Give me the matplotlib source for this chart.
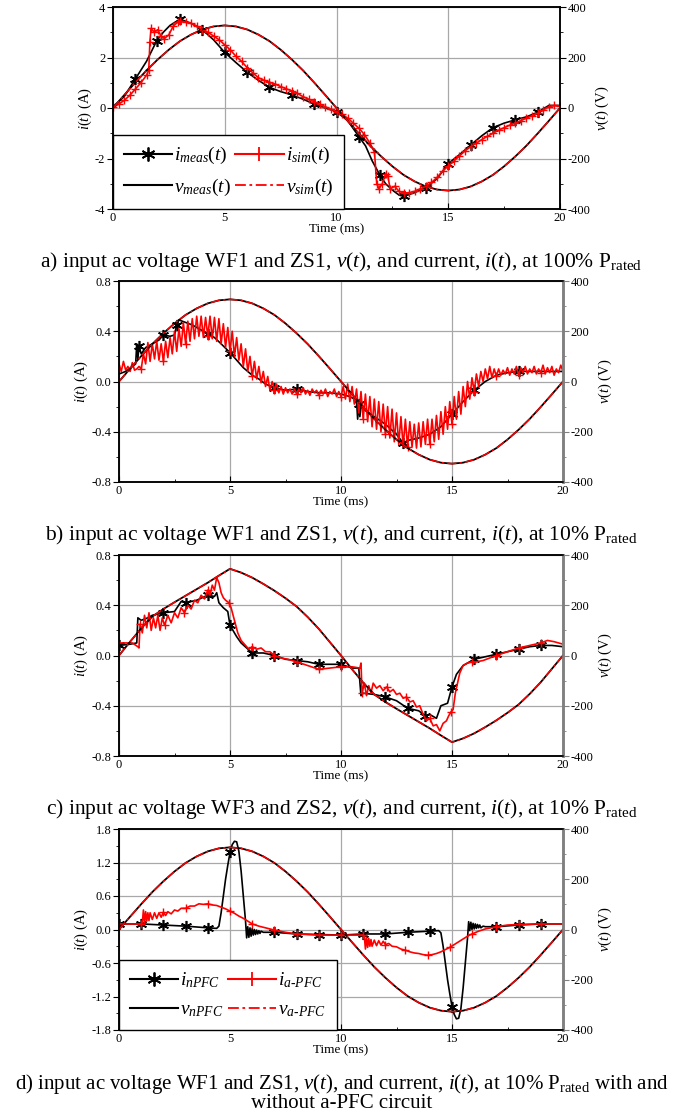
import numpy as np
import matplotlib
matplotlib.use('Agg')
import matplotlib.pyplot as plt
from matplotlib.lines import Line2D
from matplotlib.ticker import MultipleLocator

plt.rcParams['font.family'] = ['Liberation Serif', 'DejaVu Serif']
plt.rcParams['mathtext.fontset'] = 'custom'
plt.rcParams['mathtext.rm'] = 'Liberation Serif'
plt.rcParams['mathtext.it'] = 'Liberation Serif:italic'
plt.rcParams['mathtext.bf'] = 'Liberation Serif:bold'
plt.rcParams['axes.unicode_minus'] = False

# ---------------- data ----------------
# voltage, WF1 (sinusoidal) sampled every 0.5 ms
t_v = np.arange(41) * 0.5
v_wf1 = [0, 51, 101, 149, 192, 231, 265, 291, 311, 323, 327, 323, 311, 291, 265, 231, 192, 149, 101, 51,
         0, -51, -101, -149, -192, -231, -265, -291, -311, -323, -327, -323, -311, -291, -265, -231, -192,
         -149, -101, -51, 0]
# voltage, WF3 (distorted)
v_wf3 = [0, 55, 108, 155, 185, 212, 238, 264, 290, 318, 345, 330, 310, 285, 258, 228, 195, 153, 106, 53,
         0, -55, -108, -155, -185, -212, -238, -264, -290, -318, -345, -330, -310, -285, -258, -228, -195,
         -153, -106, -53, 0]

# panel a: 100 % rated
t_a_meas = [0, 0.5, 1.0, 1.5, 1.95, 2.25, 2.55, 3.0, 3.5, 4.0, 4.5, 5.0, 5.5, 6.0, 6.5, 7.0, 7.5, 8.0, 8.5, 9.0,
            9.5, 10.0, 10.5, 11.0, 11.3, 11.6, 11.95, 12.2, 12.5, 12.8, 13.0, 13.5, 14.0, 14.5, 15.0, 15.5,
            16.0, 16.5, 17.0, 17.5, 18.0, 18.5, 19.0, 19.5, 20.0]
i_a_meas = [0.05, 0.45, 1.15, 1.85, 2.65, 3.0, 3.27, 3.52, 3.35, 3.1, 2.7, 2.2, 1.8, 1.42, 1.1, 0.82, 0.65,
            0.52, 0.35, 0.16, 0.0, -0.15, -0.5, -1.13, -1.5, -2.1, -2.67, -3.0, -3.25, -3.45, -3.5, -3.35,
            -3.15, -2.8, -2.2, -1.85, -1.47, -1.1, -0.78, -0.6, -0.47, -0.35, -0.17, 0.1, 0.1]
t_a_sim = [0, 0.25, 0.5, 0.75, 1.0, 1.25, 1.5, 1.6, 1.65, 1.7, 1.85, 2.0, 2.15, 2.3, 2.5, 2.7, 2.9, 3.0, 3.25,
           3.5, 3.75, 4.0, 4.25, 4.5, 4.75, 5.0, 5.25, 5.5, 5.75, 6.0, 6.25, 6.5, 6.75, 7.0, 7.25, 7.5, 7.75,
           8.0, 8.25, 8.5, 8.75, 9.0, 9.25, 9.5, 9.75, 10.0, 10.25, 10.5, 10.75, 11.0, 11.25, 11.5, 11.7, 11.8,
           11.9, 12.05, 12.2, 12.3, 12.4, 12.6, 12.8, 13.0, 13.25, 13.5, 13.75, 14.0, 14.25, 14.5, 14.75, 15.0,
           15.25, 15.5, 15.75, 16.0, 16.25, 16.5, 16.75, 17.0, 17.25, 17.5, 17.75, 18.0, 18.25, 18.5, 18.75,
           19.0, 19.25, 19.5, 19.75, 20.0]
i_a_sim = [0.02, 0.15, 0.3, 0.5, 0.75, 1.0, 1.3, 1.5, 2.6, 3.15, 3.0, 3.1, 2.85, 2.75, 2.9, 3.25, 3.4, 3.45,
           3.4, 3.35, 3.25, 3.1, 3.0, 2.85, 2.7, 2.5, 2.3, 2.05, 1.85, 1.6, 1.4, 1.2, 1.1, 1.02, 0.95, 0.85,
           0.76, 0.68, 0.58, 0.45, 0.35, 0.25, 0.15, 0.05, -0.05, -0.14, -0.25, -0.4, -0.6, -0.8, -1.05,
           -1.4, -1.75, -3.0, -3.2, -3.0, -2.6, -2.7, -3.2, -3.1, -3.3, -3.37, -3.35, -3.3, -3.2, -3.1, -2.95,
           -2.75, -2.5, -2.3, -2.1, -1.9, -1.7, -1.53, -1.4, -1.25, -1.12, -1.0, -0.88, -0.78, -0.68, -0.6,
           -0.5, -0.4, -0.3, -0.21, -0.08, 0.05, 0.1, 0.08]

# panel b: 10 % rated, WF1/ZS1
t_b_meas = [0, 0.3, 0.6, 0.75, 0.8, 0.85, 0.9, 1.0, 1.2, 1.5, 1.8, 2.0, 2.3, 2.5, 2.6, 2.7, 3.0, 3.3, 3.6, 4.0,
            4.3, 4.6, 5.0, 5.3, 5.6, 6.0, 6.3, 6.6, 7.0, 7.5, 8.0, 8.5, 9.0, 9.5, 10.0, 10.4, 10.7, 10.75,
            10.8, 10.85, 10.9, 11.0, 11.5, 12.0, 12.5, 12.8, 13.0, 13.5, 14.0, 14.5, 15.0, 15.5, 16.0, 16.5,
            17.0, 17.5, 18.0, 18.5, 19.0, 19.5, 20.0]
i_b_meas = [0.06, 0.08, 0.12, 0.14, 0.30, 0.18, 0.28, 0.22, 0.27, 0.30, 0.33, 0.37, 0.36, 0.37, 0.45, 0.49,
            0.47, 0.45, 0.42, 0.38, 0.35, 0.30, 0.23, 0.17, 0.11, 0.05, 0.02, -0.02, -0.05, -0.07, -0.06, -0.08,
            -0.09, -0.09, -0.10, -0.12, -0.15, -0.30, -0.18, -0.28, -0.20, -0.22, -0.28, -0.34, -0.42, -0.49,
            -0.47, -0.45, -0.42, -0.36, -0.26, -0.16, -0.07, 0.00, 0.05, 0.07, 0.08, 0.08, 0.08, 0.08, 0.08]
t_b_sim = np.arange(201) * 0.1
i_b_sim = [0.14, 0.08, 0.16, 0.09, 0.12, 0.08, 0.15, 0.09, 0.10, 0.12,
           0.10, 0.22, 0.14, 0.31, 0.16, 0.30, 0.18, 0.32, 0.17, 0.30,
           0.16, 0.32, 0.19, 0.35, 0.22, 0.40, 0.24, 0.42, 0.28, 0.47,
           0.30, 0.48, 0.32, 0.50, 0.34, 0.52, 0.36, 0.52, 0.35, 0.51,
           0.36, 0.52, 0.34, 0.51, 0.32, 0.50, 0.30, 0.46, 0.27, 0.43,
           0.24, 0.40, 0.20, 0.35, 0.17, 0.30, 0.12, 0.26, 0.08, 0.20,
           0.04, 0.16, 0.02, 0.12, -0.01, 0.08, -0.04, 0.04, -0.07, 0.00,
           -0.07, -0.02, -0.09, -0.04, -0.10, -0.05, -0.09, -0.06, -0.10, -0.06,
           -0.10, -0.06, -0.09, -0.05, -0.10, -0.07, -0.11, -0.06, -0.09, -0.07,
           -0.11, -0.07, -0.10, -0.06, -0.12, -0.08, -0.10, -0.06, -0.12, -0.08,
           -0.12, -0.04, -0.14, -0.02, -0.16, -0.04, -0.18, -0.06, -0.25, -0.08,
           -0.30, -0.10, -0.32, -0.12, -0.36, -0.14, -0.38, -0.16, -0.40, -0.18,
           -0.42, -0.20, -0.45, -0.22, -0.48, -0.25, -0.50, -0.28, -0.52, -0.30,
           -0.52, -0.32, -0.52, -0.34, -0.53, -0.33, -0.52, -0.32, -0.50, -0.30,
           -0.50, -0.30, -0.48, -0.27, -0.46, -0.24, -0.42, -0.20, -0.38, -0.16,
           -0.34, -0.12, -0.30, -0.08, -0.26, -0.04, -0.20, 0.00, -0.14, 0.03,
           -0.08, 0.06, -0.04, 0.08, 0.00, 0.10, 0.02, 0.12, 0.03, 0.10,
           0.04, 0.10, 0.05, 0.09, 0.06, 0.11, 0.05, 0.10, 0.06, 0.12,
           0.05, 0.11, 0.07, 0.12, 0.06, 0.10, 0.07, 0.12, 0.06, 0.10,
           0.07, 0.13, 0.06, 0.11, 0.07, 0.12, 0.05, 0.10, 0.07, 0.13,
           0.08]

# panel c: 10 % rated, WF3/ZS2
t_c_meas = [0, 0.5, 0.8, 0.85, 1.0, 1.3, 1.5, 2.0, 2.5, 2.8, 3.0, 3.5, 4.0, 4.3, 4.4, 4.5, 4.7, 4.9, 5.0, 5.3,
            5.5, 6.0, 6.5, 7.0, 7.5, 8.0, 8.5, 9.0, 9.5, 10.0, 10.5, 10.8, 10.9, 11.0, 11.5, 12.0, 12.5, 13.0,
            13.5, 13.8, 14.0, 14.3, 14.5, 14.8, 15.0, 15.2, 15.5, 16.0, 16.5, 17.0, 17.5, 18.0, 18.5, 19.0,
            19.5, 20.0]
i_c_meas = [0.08, 0.09, 0.10, 0.30, 0.28, 0.30, 0.32, 0.34, 0.35, 0.43, 0.42, 0.44, 0.48, 0.47, 0.50, 0.42,
            0.38, 0.35, 0.24, 0.15, 0.10, 0.02, 0.02, 0.00, -0.03, -0.04, -0.05, -0.07, -0.07, -0.07, -0.10,
            -0.10, -0.32, -0.30, -0.31, -0.33, -0.36, -0.42, -0.44, -0.48, -0.47, -0.50, -0.40, -0.38, -0.25,
            -0.15, -0.08, -0.03, -0.01, 0.01, 0.03, 0.05, 0.07, 0.08, 0.08, 0.07]
t_c_sim = [0.0, 0.3, 0.6, 0.85, 0.9, 0.95, 1.05, 1.15, 1.25, 1.35, 1.45, 1.55, 1.65, 1.75, 1.85, 1.95, 2.05,
           2.2, 2.35, 2.5, 2.65, 2.8, 2.95, 3.1, 3.25, 3.4, 3.55, 3.7, 3.85, 4.0, 4.1, 4.2, 4.3, 4.4, 4.5, 4.6,
           4.7, 4.8, 4.95, 5.05, 5.2, 5.35, 5.5, 5.7, 5.85, 6.0, 6.2, 6.4, 6.6, 6.8, 7.0, 7.3, 7.6, 8.0, 8.5,
           9.0, 9.5, 10.0, 10.5, 10.85, 10.9, 10.95, 11.05, 11.15, 11.25, 11.35, 11.45, 11.6, 11.75, 11.9,
           12.05, 12.2, 12.35, 12.5, 12.65, 12.8, 12.95, 13.1, 13.25, 13.4, 13.55, 13.7, 13.85, 14.0, 14.15,
           14.3, 14.45, 14.6, 14.75, 14.85, 14.95, 15.05, 15.15, 15.25, 15.35, 15.5, 15.7, 15.9, 16.1, 16.4,
           16.7, 17.0, 17.5, 18.0, 18.5, 19.0, 19.3, 19.6, 20.0]
i_c_sim = [0.10, 0.10, 0.10, 0.07, 0.06, 0.25, 0.18, 0.32, 0.22, 0.34, 0.20, 0.30, 0.22, 0.32, 0.20, 0.30,
           0.24, 0.32, 0.26, 0.34, 0.30, 0.38, 0.34, 0.40, 0.37, 0.44, 0.42, 0.48, 0.45, 0.52, 0.48, 0.56,
           0.52, 0.62, 0.58, 0.50, 0.46, 0.44, 0.42, 0.38, 0.28, 0.18, 0.12, 0.08, 0.05, 0.07, 0.05, 0.06,
           0.03, 0.03, 0.00, -0.02, -0.03, -0.05, -0.08, -0.11, -0.10, -0.09, -0.09, -0.10, -0.06, -0.30,
           -0.22, -0.32, -0.24, -0.30, -0.22, -0.26, -0.24, -0.28, -0.25, -0.29, -0.27, -0.31, -0.30, -0.34,
           -0.33, -0.37, -0.36, -0.41, -0.40, -0.47, -0.52, -0.50, -0.56, -0.55, -0.60, -0.54, -0.52, -0.48,
           -0.45, -0.43, -0.30, -0.22, -0.14, -0.08, -0.06, -0.05, -0.05, -0.04, -0.02, 0.00, 0.03, 0.06,
           0.08, 0.10, 0.12, 0.11, 0.09]

# panel d: with / without a-PFC
t_d_n = [0, 1, 2, 3, 4, 4.4, 4.5, 4.6, 4.7, 4.8, 4.9, 5.0, 5.1, 5.2, 5.3, 5.4, 5.5, 5.6, 5.7, 5.75, 5.8, 5.85,
         5.9, 5.95, 6.0, 6.05, 6.1, 6.15, 6.2, 6.25, 6.3, 6.35, 6.4, 6.5, 6.7, 7.0, 8.0, 9.0, 10.0, 11.0, 12.0,
         13.0, 14.0, 14.4, 14.5, 14.6, 14.7, 14.8, 14.9, 15.0, 15.1, 15.2, 15.3, 15.4, 15.5, 15.6, 15.7, 15.75,
         15.8, 15.85, 15.9, 15.95, 16.0, 16.05, 16.1, 16.15, 16.2, 16.25, 16.3, 16.4, 16.5, 17.0, 18.0, 19.0,
         20.0]
i_d_n = [0.10, 0.10, 0.08, 0.06, 0.03, 0.02, 0.06, 0.30, 0.60, 0.90, 1.15, 1.38, 1.52, 1.58, 1.57, 1.40, 1.05,
         0.60, 0.15, -0.15, 0.05, -0.14, 0.03, -0.12, 0.02, -0.10, 0.00, -0.09, -0.01, -0.08, -0.02, -0.07,
         -0.03, -0.05, -0.05, -0.05, -0.08, -0.09, -0.10, -0.08, -0.08, -0.05, -0.03, -0.02, -0.06, -0.30,
         -0.60, -0.90, -1.15, -1.38, -1.52, -1.60, -1.59, -1.42, -1.05, -0.60, -0.15, 0.14, -0.02, 0.13, 0.00,
         0.11, 0.01, 0.10, 0.02, 0.09, 0.03, 0.08, 0.03, 0.06, 0.05, 0.05, 0.08, 0.10, 0.10]
t_d_a = [0.0, 0.5, 1.0, 1.05, 1.1, 1.15, 1.2, 1.25, 1.3, 1.35, 1.4, 1.5, 1.6, 1.7, 1.8, 1.9, 2.0, 2.1, 2.2,
         2.35, 2.5, 2.65, 2.8, 3.0, 3.2, 3.4, 3.6, 3.8, 4.0, 4.2, 4.4, 4.6, 4.8, 5.0, 5.2, 5.4, 5.6, 5.8, 6.0,
         6.3, 6.6, 7.0, 7.5, 8.0, 8.5, 9.0, 10.0, 11.0, 11.05, 11.1, 11.15, 11.2, 11.25, 11.3, 11.35, 11.4,
         11.5, 11.6, 11.7, 11.8, 11.9, 12.0, 12.15, 12.3, 12.5, 12.7, 12.9, 13.1, 13.3, 13.5, 13.7, 13.9, 14.1,
         14.3, 14.5, 14.7, 14.9, 15.1, 15.3, 15.5, 15.7, 15.9, 16.2, 16.5, 17.0, 17.5, 18.0, 19.0, 20.0]
i_d_a = [0.10, 0.10, 0.10, 0.12, 0.35, 0.12, 0.32, 0.15, 0.30, 0.16, 0.30, 0.18, 0.30, 0.20, 0.30, 0.22, 0.31,
         0.25, 0.32, 0.28, 0.35, 0.33, 0.38, 0.38, 0.42, 0.42, 0.46, 0.45, 0.46, 0.44, 0.43, 0.40, 0.37, 0.33,
         0.29, 0.24, 0.20, 0.15, 0.10, 0.06, 0.03, -0.01, -0.05, -0.08, -0.09, -0.10, -0.10, -0.10, -0.12,
         -0.35, -0.14, -0.32, -0.16, -0.30, -0.18, -0.30, -0.19, -0.29, -0.20, -0.28, -0.21, -0.27, -0.25,
         -0.30, -0.31, -0.35, -0.37, -0.40, -0.42, -0.43, -0.45, -0.46, -0.45, -0.43, -0.40, -0.36, -0.32,
         -0.27, -0.22, -0.17, -0.12, -0.08, -0.03, 0.01, 0.05, 0.08, 0.09, 0.10, 0.10]

captions = [
    r"a) input ac voltage WF1 and ZS1, $\mathit{v(t)}$, and current, $\mathit{i(t)}$, at 100% $\mathrm{P_{rated}}$",
    r"b) input ac voltage WF1 and ZS1, $\mathit{v(t)}$, and current, $\mathit{i(t)}$, at 10% $\mathrm{P_{rated}}$",
    r"c) input ac voltage WF3 and ZS2, $\mathit{v(t)}$, and current, $\mathit{i(t)}$, at 10% $\mathrm{P_{rated}}$",
    r"d) input ac voltage WF1 and ZS1, $\mathit{v(t)}$, and current, $\mathit{i(t)}$, at 10% $\mathrm{P_{rated}}$ with and",
    "without a-PFC circuit",
]

# ---------------- plotting ----------------
W, H = 697, 1115
fig = plt.figure(figsize=(W / 100, H / 100), dpi=100)

AST = (6, 2, 0)
TICK_FS = 9
DASHDOT = (0, (6, 2, 1.5, 2))


def idx_near(tarr, times):
    tarr = np.asarray(tarr, dtype=float)
    return [int(np.argmin(np.abs(tarr - m))) for m in times]


def make_axes(px_left, px_right, px_top, px_bot, ylim, yticks, ytlabels, yminor, gray_right):
    ax = fig.add_axes([px_left / W, 1 - px_bot / H, (px_right - px_left) / W, (px_bot - px_top) / H])
    axr = ax.twinx()
    ax.set_xlim(0, 20)
    ax.set_ylim(*ylim)
    ax.set_xticks([0, 5, 10, 15, 20])
    ax.xaxis.set_minor_locator(MultipleLocator(2.5))
    ax.set_yticks(yticks)
    ax.set_yticklabels(ytlabels)
    ax.yaxis.set_minor_locator(MultipleLocator(yminor))
    ax.grid(True, which='major', color='#a8a8a8', lw=0.9)
    ax.set_axisbelow(True)
    ax.tick_params(axis='x', which='major', direction='in', length=4, labelsize=TICK_FS, pad=2)
    ax.tick_params(axis='x', which='minor', direction='in', length=2.5)
    ax.tick_params(axis='y', which='major', direction='out', length=4, labelsize=TICK_FS, pad=1.5)
    ax.tick_params(axis='y', which='minor', direction='out', length=2.5)
    axr.set_ylim(-400, 400)
    axr.set_yticks([-400, -200, 0, 200, 400])
    axr.yaxis.set_minor_locator(MultipleLocator(100))
    axr.tick_params(axis='y', which='major', direction='out', length=4, labelsize=TICK_FS, pad=1.5)
    axr.tick_params(axis='y', which='minor', direction='out', length=2.5)
    for a in (ax, axr):
        for s in a.spines.values():
            s.set_linewidth(1.1)
    if gray_right:
        for a in (ax, axr):
            a.spines['right'].set_color('#808080')
            a.spines['right'].set_linewidth(1.8)
        axr.tick_params(axis='y', which='both', color='#808080')
    ax.set_xlabel('Time (ms)', fontsize=9.5, labelpad=0)
    ax.set_ylabel(r'$\mathit{i(t)}$ (A)', fontsize=10.5, labelpad=1)
    axr.set_ylabel(r'$\mathit{v(t)}$ (V)', fontsize=10.5, labelpad=2, rotation=90)
    return ax, axr


def add_legend(axr, labels):
    h = [Line2D([], [], color='black', lw=1.5, marker=AST, ms=10, mew=1.3),
         Line2D([], [], color='black', lw=1.5),
         Line2D([], [], color='red', lw=1.5, marker='+', ms=10, mew=1.3),
         Line2D([], [], color='red', lw=1.3, ls=DASHDOT)]
    leg = axr.legend(h, labels, ncol=2, loc='lower left', bbox_to_anchor=(0, 0), borderaxespad=0,
                     fontsize=14, handlelength=2.5, handletextpad=0.1, columnspacing=0.2,
                     labelspacing=0.55, borderpad=0.55, fancybox=False, edgecolor='black', framealpha=1)
    leg.get_frame().set_linewidth(1.0)


LW = 1.2

# ---- panel a ----
ax, axr = make_axes(113, 560, 7, 209, (-4, 4), [-4, -2, 0, 2, 4], ['-4', '-2', '0', '2', '4'], 1, False)
axr.plot(t_v, v_wf1, color='black', lw=1.3)
axr.plot(t_v, v_wf1, color='red', lw=1.1, ls=DASHDOT)
ax.plot(t_a_meas, i_a_meas, color='black', lw=LW, marker=AST, ms=8, mew=1.2,
        markevery=idx_near(t_a_meas, range(1, 20)))
ax.plot(t_a_sim, i_a_sim, color='red', lw=LW, marker='+', ms=6, mew=1.0)
add_legend(axr, [r'$\mathit{i_{meas}(t)}$', r'$\mathit{v_{meas}(t)}$',
                 r'$\mathit{i_{sim}(t)}$', r'$\mathit{v_{sim}(t)}$'])

# ---- panel b ----
ax, axr = make_axes(119, 563, 281, 482, (-0.8, 0.8), [-0.8, -0.4, 0, 0.4, 0.8],
                    ['-0.8', '-0.4', '0.0', '0.4', '0.8'], 0.2, True)
axr.plot(t_v, v_wf1, color='black', lw=1.3)
axr.plot(t_v, v_wf1, color='red', lw=1.1, ls=DASHDOT)
ax.plot(t_b_meas, i_b_meas, color='black', lw=LW, marker=AST, ms=8, mew=1.2,
        markevery=idx_near(t_b_meas, [0.9, 2, 2.6, 4, 5, 7, 8, 10.8, 12.8, 15, 16, 18]))
ax.plot(t_b_sim, i_b_sim, color='red', lw=LW, marker='+', ms=6, mew=1.0,
        markevery=idx_near(t_b_sim, range(1, 20)))

# ---- panel c ----
ax, axr = make_axes(119, 563, 555, 756, (-0.8, 0.8), [-0.8, -0.4, 0, 0.4, 0.8],
                    ['-0.8', '-0.4', '0.0', '0.4', '0.8'], 0.2, True)
axr.plot(t_v, v_wf3, color='black', lw=1.3)
axr.plot(t_v, v_wf3, color='red', lw=1.1, ls=DASHDOT)
ax.plot(t_c_meas, i_c_meas, color='black', lw=LW, marker=AST, ms=8, mew=1.2,
        markevery=idx_near(t_c_meas, [0.1, 2, 3, 4, 5, 6, 7, 8, 9, 10, 11.9, 12.9, 13.8, 15, 16, 17, 18, 19]))
ax.plot(t_c_sim, i_c_sim, color='red', lw=LW, marker='+', ms=6, mew=1.0,
        markevery=idx_near(t_c_sim, range(1, 20)))

# ---- panel d ----
ax, axr = make_axes(119, 563, 829, 1030, (-1.8, 1.8), [-1.8, -1.2, -0.6, 0, 0.6, 1.2, 1.8],
                    ['-1.8', '-1.2', '-0.6', '0.0', '0.6', '1.2', '1.8'], 0.3, True)
axr.plot(t_v, v_wf1, color='black', lw=1.3)
axr.plot(t_v, v_wf1, color='red', lw=1.1, ls=DASHDOT)
ax.plot(t_d_n, i_d_n, color='black', lw=LW, marker=AST, ms=8, mew=1.2,
        markevery=idx_near(t_d_n, [0, 1, 2, 3, 4, 5, 7, 8, 9, 10, 11, 12, 13, 14, 15, 17, 18, 19]))
ax.plot(t_d_a, i_d_a, color='red', lw=LW, marker='+', ms=6, mew=1.0,
        markevery=idx_near(t_d_a, range(1, 20)))
add_legend(axr, [r'$\mathit{i_{nPFC}}$', r'$\mathit{v_{nPFC}}$',
                 '$\\mathit{i_{a\u2010PFC}}$', '$\\mathit{v_{a\u2010PFC}}$'])

# ---- captions ----
CAP_FS = 15.5
fig.text(0.49, 1 - 267 / H, captions[0], ha='center', va='baseline', fontsize=CAP_FS)
fig.text(0.49, 1 - 540 / H, captions[1], ha='center', va='baseline', fontsize=CAP_FS)
fig.text(0.49, 1 - 814 / H, captions[2], ha='center', va='baseline', fontsize=CAP_FS)
fig.text(0.49, 1 - 1089 / H, captions[3], ha='center', va='baseline', fontsize=15)
fig.text(0.49, 1 - 1108 / H, captions[4], ha='center', va='baseline', fontsize=15)

fig.savefig('out.png', dpi=100)
